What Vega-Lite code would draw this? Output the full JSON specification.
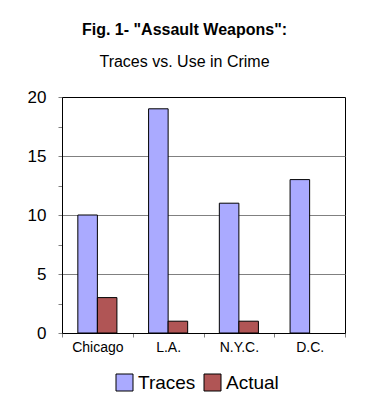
{
  "$schema": "https://vega.github.io/schema/vega-lite/v6.json",
  "autosize": "none",
  "width": 283,
  "height": 236,
  "padding": {"left": 62, "top": 97, "right": 24, "bottom": 75},
  "background": "white",
  "title": {
    "text": "Fig. 1- \"Assault Weapons\":",
    "subtitle": "Traces vs. Use in Crime",
    "font": "Liberation Sans",
    "fontSize": 16,
    "fontWeight": "bold",
    "color": "black",
    "subtitleFont": "Liberation Sans",
    "subtitleFontSize": 16,
    "subtitleColor": "black",
    "subtitlePadding": 16,
    "anchor": "middle",
    "dx": -19,
    "offset": 18
  },
  "data": {
    "values": [
      {"city": "Chicago", "series": "Traces", "value": 10},
      {"city": "Chicago", "series": "Actual", "value": 3},
      {"city": "L.A.", "series": "Traces", "value": 19},
      {"city": "L.A.", "series": "Actual", "value": 1},
      {"city": "N.Y.C.", "series": "Traces", "value": 11},
      {"city": "N.Y.C.", "series": "Actual", "value": 1},
      {"city": "D.C.", "series": "Traces", "value": 13}
    ]
  },
  "mark": {"type": "bar", "stroke": "black", "strokeWidth": 1},
  "encoding": {
    "x": {
      "field": "city",
      "type": "nominal",
      "sort": ["Chicago", "L.A.", "N.Y.C.", "D.C."],
      "scale": {"paddingInner": 0, "paddingOuter": 0},
      "axis": {
        "title": null,
        "labelAngle": 0,
        "labelFont": "Liberation Sans",
        "labelFontSize": 14,
        "labelColor": "black",
        "labelPadding": 3,
        "domainColor": "black",
        "tickColor": "#808080",
        "tickSize": 4,
        "tickBand": "extent",
        "grid": false
      }
    },
    "xOffset": {
      "field": "series",
      "type": "nominal",
      "sort": ["Traces", "Actual"],
      "scale": {"paddingInner": 0, "paddingOuter": 0.81}
    },
    "y": {
      "field": "value",
      "type": "quantitative",
      "scale": {"domain": [0, 20], "nice": false},
      "axis": {
        "title": null,
        "values": [0, 2.5, 5, 7.5, 10, 12.5, 15, 17.5, 20],
        "labelExpr": "datum.value % 5 === 0 ? datum.label : ''",
        "labelFont": "Liberation Sans",
        "labelFontSize": 17,
        "labelColor": "black",
        "labelPadding": 12,
        "domainColor": "black",
        "tickColor": "#808080",
        "tickSize": 4,
        "grid": true,
        "gridColor": "#808080",
        "gridOpacity": {"condition": {"test": "datum.value % 5 === 0 && datum.value > 0 && datum.value < 20", "value": 1}, "value": 0}
      }
    },
    "color": {
      "field": "series",
      "type": "nominal",
      "sort": ["Traces", "Actual"],
      "scale": {"domain": ["Traces", "Actual"], "range": ["#aaaaff", "#b05555"]},
      "legend": {
        "title": null,
        "orient": "none",
        "direction": "horizontal",
        "legendX": 53,
        "legendY": 276,
        "symbolType": "square",
        "symbolSize": 289,
        "symbolStrokeColor": "black",
        "symbolStrokeWidth": 1,
        "symbolOpacity": 1,
        "labelFont": "Liberation Sans",
        "labelFontSize": 19,
        "labelColor": "black",
        "labelOffset": 4,
        "columnPadding": 6
      }
    }
  },
  "config": {
    "view": {"stroke": "black", "strokeWidth": 1}
  }
}
